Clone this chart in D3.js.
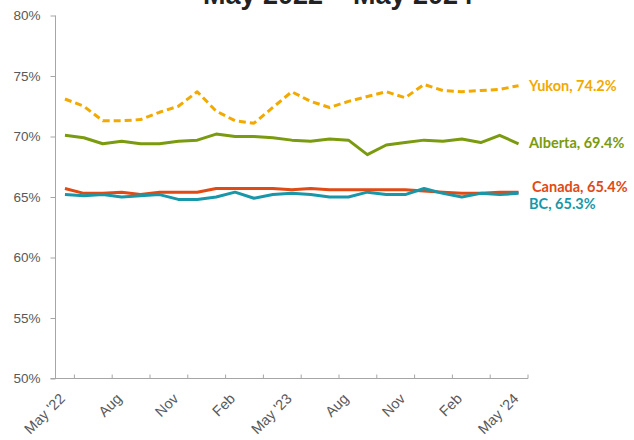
<!DOCTYPE html>
<html lang="en">
<head>
  <meta charset="UTF-8">
  <title>chart</title>
</head>
<body>
<style>
  * {
    padding: 0;
    margin: 0;
  }

  body {
    background: #fff;
  }

  #app {
    width: 634px;
    height: 440px;
  }
</style>

<div id="app"></div>

<script src="https://cdn.jsdelivr.net/npm/d3@7"></script>
<script>
  // monthly values, May 2022 .. May 2024
  let months = ["May '22", "Jun", "Jul", "Aug", "Sep", "Oct", "Nov", "Dec", "Jan", "Feb", "Mar", "Apr",
    "May '23", "Jun", "Jul", "Aug", "Sep", "Oct", "Nov", "Dec", "Jan", "Feb", "Mar", "Apr", "May '24"]

  let yukon = [73.1, 72.5, 71.3, 71.3, 71.4, 72.0, 72.5, 73.7, 72.1, 71.3, 71.1, 72.4,
    73.7, 72.9, 72.4, 72.9, 73.3, 73.7, 73.2, 74.3, 73.8, 73.7, 73.8, 73.9, 74.2]
  let alberta = [70.1, 69.9, 69.4, 69.6, 69.4, 69.4, 69.6, 69.7, 70.2, 70.0, 70.0, 69.9,
    69.7, 69.6, 69.8, 69.7, 68.5, 69.3, 69.5, 69.7, 69.6, 69.8, 69.5, 70.1, 69.4]
  let canada = [65.7, 65.3, 65.3, 65.4, 65.2, 65.4, 65.4, 65.4, 65.7, 65.7, 65.7, 65.7,
    65.6, 65.7, 65.6, 65.6, 65.6, 65.6, 65.6, 65.5, 65.4, 65.3, 65.3, 65.4, 65.4]
  let bc = [65.2, 65.1, 65.2, 65.0, 65.1, 65.2, 64.8, 64.8, 65.0, 65.4, 64.9, 65.2,
    65.3, 65.2, 65.0, 65.0, 65.4, 65.2, 65.2, 65.7, 65.3, 65.0, 65.3, 65.2, 65.3]

  let yTicks = [50, 55, 60, 65, 70, 75, 80]
  let labelEvery = 3, tickEvery = 2

  let series = [
    {name: "Yukon", values: yukon, color: "#f2a900", dash: "7,4"},
    {name: "Alberta", values: alberta, color: "#7a9a0f", dash: null},
    {name: "Canada", values: canada, color: "#e04a14", dash: null},
    {name: "BC", values: bc, color: "#1897a8", dash: null}
  ]

  let $width = 634, $height = 440
  let $left = 55.5, $right = 528, $top = 15.5, $bottom = 378.5

  var svg = d3.select("#app").append("svg").attr("width", $width).attr("height", $height)

  var x = d3.scaleBand().domain(d3.range(months.length)).range([$left, $right]).padding(0)
  var cx = function (i) { return x(i) + x.bandwidth() / 2 }
  var y = d3.scaleLinear().domain([50, 80]).range([$bottom, $top])

  // title (cut off at the top edge, as in the original)
  svg.append("text").text("May 2022 \u2013 May 2024")
    .attr("x", 338).attr("y", 4).attr("text-anchor", "middle")
    .attr("font-family", "Liberation Sans, Arial, sans-serif").attr("font-weight", "bold")
    .attr("font-size", "27px").attr("fill", "#222")

  // y axis
  var yAxis = svg.append("g").attr("transform", "translate(" + $left + ",0)")
    .call(d3.axisLeft(y).tickValues(yTicks).tickSize(5).tickPadding(10).tickFormat(function (d) {
      return d + "%"
    }))
  yAxis.select(".domain").attr("stroke", "#a6a6a6").attr("d", "M0," + $bottom + "V" + $top)
  yAxis.selectAll(".tick line").attr("stroke", "#a6a6a6")
  yAxis.selectAll("text").attr("fill", "#595959").attr("font-size", "13.5px")
    .attr("font-family", "Liberation Sans, Arial, sans-serif")

  // x axis: ticks at category boundaries every 2 months
  var bounds = d3.range(1, months.length + 1, tickEvery)
  var xg = svg.append("g")
  xg.append("line").attr("x1", $left - 5).attr("x2", $right).attr("y1", $bottom).attr("y2", $bottom)
    .attr("stroke", "#a6a6a6")
  xg.selectAll("line.tk").data(bounds).enter().append("line").attr("class", "tk")
    .attr("x1", function (d) { return $left + d * x.bandwidth() })
    .attr("x2", function (d) { return $left + d * x.bandwidth() })
    .attr("y1", $bottom).attr("y2", $bottom - 4).attr("stroke", "#a6a6a6")

  var labelIdx = d3.range(0, months.length, labelEvery)
  xg.selectAll("text").data(labelIdx).enter().append("text")
    .text(function (d) { return months[d] })
    .attr("transform", function (d) {
      return "translate(" + (cx(d) + 1) + "," + ($bottom + 21) + ") rotate(-45)"
    })
    .attr("text-anchor", "end").attr("fill", "#595959").attr("font-size", "14.5px")
    .attr("font-family", "Liberation Sans, Arial, sans-serif")

  // lines
  var line = d3.line().x(function (d, i) { return cx(i) }).y(function (d) { return y(d) })

  svg.selectAll("path.series").data(series).enter().append("path").attr("class", "series")
    .attr("d", function (d) { return line(d.values) })
    .attr("fill", "none").attr("stroke", function (d) { return d.color })
    .attr("stroke-width", 3).attr("stroke-linejoin", "round")
    .attr("stroke-dasharray", function (d) { return d.dash })

  // end labels
  let labelY = {Yukon: 91, Alberta: 148, Canada: 192, BC: 209}
  let labelX = {Yukon: 529, Alberta: 529, Canada: 532, BC: 529}
  svg.selectAll("text.lbl").data(series).enter().append("text").attr("class", "lbl")
    .text(function (d) { return d.name + ", " + d.values[d.values.length - 1].toFixed(1) + "%" })
    .attr("x", function (d) { return labelX[d.name] })
    .attr("y", function (d) { return labelY[d.name] })
    .attr("fill", function (d) { return d.color })
    .attr("font-family", "Lato, sans-serif").attr("font-weight", "bold").attr("font-size", "14.5px")
</script>
</body>
</html>
